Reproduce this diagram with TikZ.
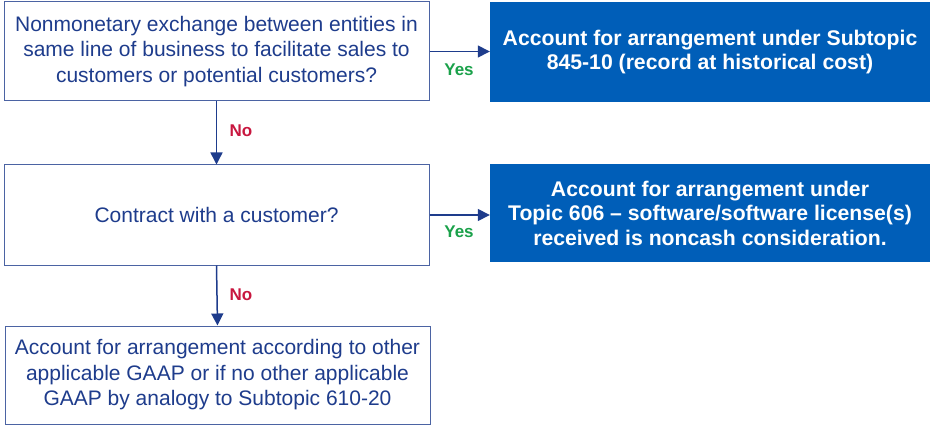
\documentclass[tikz,border=0pt]{standalone}
\usepackage{fontspec}
\setmainfont{Liberation Sans}
\usetikzlibrary{arrows.meta}
\definecolor{kdark}{HTML}{1E3C8C}
\definecolor{kblue}{HTML}{005EB8}
\definecolor{kgreen}{HTML}{1AA14A}
\definecolor{kred}{HTML}{C8173F}
\begin{document}
\begin{tikzpicture}[x=1pt,y=-1pt,
  qbox/.style={draw=kdark!80,line width=1pt,fill=white,text=kdark,align=center,
    minimum width=425pt,inner sep=0pt,font=\fontsize{21}{25.5}\selectfont},
  abox/.style={fill=kblue,text=white,align=center,minimum width=440pt,inner sep=0pt,
    font=\bfseries\fontsize{21.2}{24.5}\selectfont},
  conn/.style={draw=kdark,line width=1.5pt,-{Triangle[length=12pt,width=12pt]}},
  yeslbl/.style={text=kgreen,font=\bfseries\fontsize{17}{19}\selectfont,inner sep=0pt},
  nolbl/.style={text=kred,font=\bfseries\fontsize{17}{19}\selectfont,inner sep=0pt}]
\useasboundingbox (0,0) rectangle (932,425);
\node[qbox,minimum height=99pt] (q1) at (216.5,51.5) {Nonmonetary exchange between entities in\\same line of business to facilitate sales to\\customers or potential customers?};
\node[abox,minimum height=100pt] (a1) at (710,52) {Account for arrangement under Subtopic\\845-10 (record at historical cost)};
\node[qbox,minimum height=100pt] (q2) at (216.5,215) {Contract with a customer?};
\node[abox,minimum height=98pt] (a2) at (710,213) {Account for arrangement under\\Topic 606 -- software/software license(s)\\received is noncash consideration.};
\node[qbox,minimum height=98pt] (q3) at (217.5,375) {Account for arrangement according to other\\applicable GAAP or if no other applicable\\GAAP by analogy to Subtopic 610-20};
\draw[conn] (q1.east) -- (q1.east -| a1.west);
\draw[conn] (q2.east) -- (q2.east -| a2.west);
\draw[conn] (q1.south) -- (q2.north);
\draw[conn] (q2.south) -- (q3.north);
\node[yeslbl] (y1) at (459,70) {Yes};
\node[yeslbl] (y2) at (459,232) {Yes};
\node[nolbl] (n1) at (241,131) {No};
\node[nolbl] (n2) at (241,295) {No};
\end{tikzpicture}
\end{document}
